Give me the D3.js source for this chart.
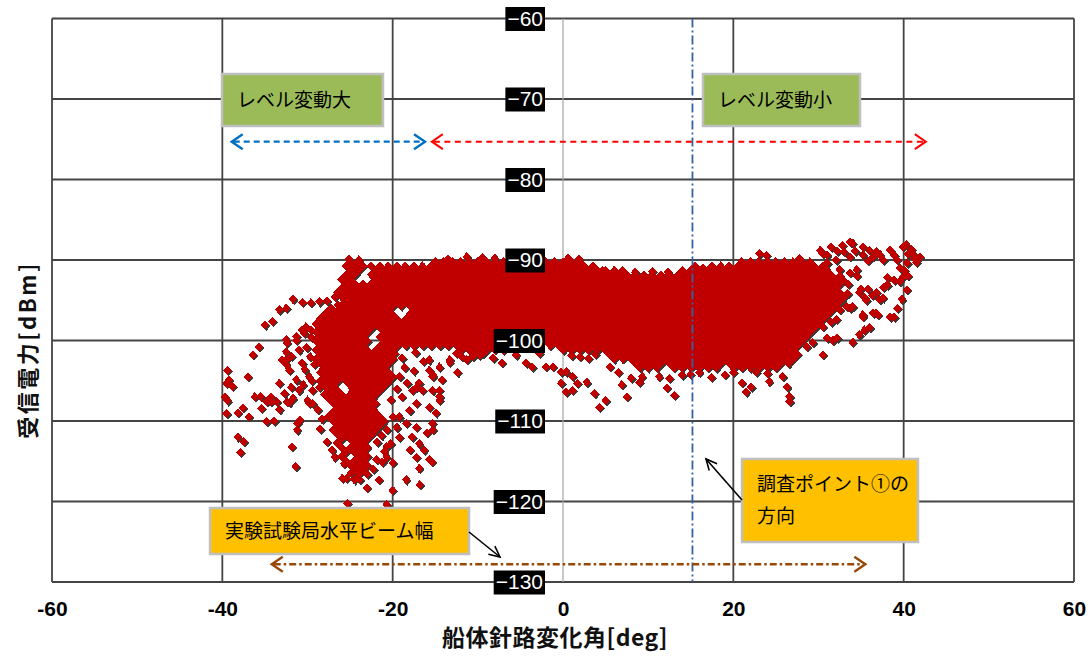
<!DOCTYPE html>
<html>
<head>
<meta charset="utf-8">
<script src="https://cdn.jsdelivr.net/npm/d3@7"></script>
<style>
html,body{margin:0;padding:0;background:#fff;}
svg{display:block;}
</style>
</head>
<body>
<svg id="chart" width="1091" height="660"></svg>
<script>
// Axis ticks
const xTicks = [-60, -40, -20, 0, 20, 40, 60];
const yTicks = [-60, -70, -80, -90, -100, -110, -120, -130];

// Axis titles and annotation texts
const xTitle = "船体針路変化角[deg]";
const yTitle = "受信電力[dBm]";
const labelLarge = "レベル変動大";
const labelSmall = "レベル変動小";
const labelSurvey = ["調査ポイント①の", "方向"];
const labelBeam = "実験試験局水平ビーム幅";

// Annotated ranges [deg] and levels [dBm]
const largeVariation = [-38.9, -16.2];
const smallVariation = [-15.4, 42.6];
const variationLevel = -75.3;
const beamWidth = [-34.2, 35.5];
const beamLevel = -127.8;
const surveyDirection = 15.2;

// Dense band of measurements: [received power dBm, heading change deg values]
const bandRows = [
  [-90.2, [-25,-24,-15,-14,-13,-12,-11,-10,-9,-8,-7,-6,-5,-4,-3,-2,-1,0,1,2,21,22,23,24,25,26,27,28,29]],
  [-90.75, [-25.5,-24.5,-23.5,-22.5,-21.5,-20.5,-19.5,-18.5,-17.5,-16.5,-15.5,-14.5,-13.5,-12.5,-11.5,-10.5,-9.5,-8.5,-7.5,-6.5,-5.5,-4.5,-3.5,-2.5,-1.5,-0.5,0.5,1.5,2.5,3.5,15.5,17.5,18.5,19.5,20.5,21.5,22.5,23.5,24.5,25.5,26.5,27.5,28.5,29.5,30.5]],
  [-91.3, [-25,-24,-22,-21,-20,-19,-18,-17,-16,-15,-14,-13,-12,-11,-10,-9,-8,-7,-6,-5,-4,-3,-2,-1,0,1,2,3,4,5,6,7,14,15,16,17,18,19,20,21,22,23,24,25,26,27,28,29,30,31]],
  [-91.85, [-25.5,-24.5,-22.5,-21.5,-20.5,-19.5,-18.5,-17.5,-16.5,-15.5,-14.5,-13.5,-12.5,-11.5,-10.5,-9.5,-8.5,-7.5,-6.5,-5.5,-4.5,-3.5,-2.5,-1.5,-0.5,0.5,1.5,2.5,3.5,4.5,5.5,6.5,7.5,8.5,9.5,10.5,11.5,12.5,13.5,14.5,15.5,16.5,17.5,18.5,19.5,20.5,21.5,22.5,23.5,24.5,25.5,26.5,27.5,28.5,29.5,30.5,31.5]],
  [-92.4, [-26,-25,-22,-21,-20,-19,-18,-17,-16,-15,-14,-13,-12,-11,-10,-9,-8,-7,-6,-5,-4,-3,-2,-1,0,1,2,3,4,5,6,7,8,9,10,11,12,13,14,15,16,17,18,19,20,21,22,23,24,25,26,27,28,29,30,31,32]],
  [-92.95, [-25.5,-24.5,-23.5,-22.5,-21.5,-20.5,-19.5,-18.5,-17.5,-16.5,-15.5,-14.5,-13.5,-12.5,-11.5,-10.5,-9.5,-8.5,-7.5,-6.5,-5.5,-4.5,-3.5,-2.5,-1.5,-0.5,0.5,1.5,2.5,3.5,4.5,5.5,6.5,7.5,8.5,9.5,10.5,11.5,12.5,13.5,14.5,15.5,16.5,17.5,18.5,19.5,20.5,21.5,22.5,23.5,24.5,25.5,26.5,27.5,28.5,29.5,30.5,31.5,32.5]],
  [-93.5, [-26,-25,-24,-23,-22,-21,-20,-19,-18,-17,-16,-15,-14,-13,-12,-11,-10,-9,-8,-7,-6,-5,-4,-3,-2,-1,0,1,2,3,4,5,6,7,8,9,10,11,12,13,14,15,16,17,18,19,20,21,22,23,24,25,26,27,28,29,30,31,32]],
  [-94.05, [-26.5,-25.5,-24.5,-23.5,-22.5,-21.5,-20.5,-19.5,-18.5,-17.5,-16.5,-15.5,-14.5,-13.5,-12.5,-11.5,-10.5,-9.5,-8.5,-7.5,-6.5,-5.5,-4.5,-3.5,-2.5,-1.5,-0.5,0.5,1.5,2.5,3.5,4.5,5.5,6.5,7.5,8.5,9.5,10.5,11.5,12.5,13.5,14.5,15.5,16.5,17.5,18.5,19.5,20.5,21.5,22.5,23.5,24.5,25.5,26.5,27.5,28.5,29.5,30.5,31.5,32.5]],
  [-94.6, [-26,-25,-24,-23,-22,-21,-20,-19,-18,-17,-16,-15,-14,-13,-12,-11,-10,-9,-8,-7,-6,-5,-4,-3,-2,-1,0,1,2,3,4,5,6,7,8,9,10,11,12,13,14,15,16,17,18,19,20,21,22,23,24,25,26,27,28,29,30,31,32,33]],
  [-95.15, [-25.5,-24.5,-23.5,-22.5,-21.5,-20.5,-19.5,-18.5,-17.5,-16.5,-15.5,-14.5,-13.5,-12.5,-11.5,-10.5,-9.5,-8.5,-7.5,-6.5,-5.5,-4.5,-3.5,-2.5,-1.5,-0.5,0.5,1.5,2.5,3.5,4.5,5.5,6.5,7.5,8.5,9.5,10.5,11.5,12.5,13.5,14.5,15.5,16.5,17.5,18.5,19.5,20.5,21.5,22.5,23.5,24.5,25.5,26.5,27.5,28.5,29.5,30.5,31.5,32.5]],
  [-95.7, [-26,-25,-24,-23,-22,-21,-20,-19,-18,-17,-16,-15,-14,-13,-12,-11,-10,-9,-8,-7,-6,-5,-4,-3,-2,-1,0,1,2,3,4,5,6,7,8,9,10,11,12,13,14,15,16,17,18,19,20,21,22,23,24,25,26,27,28,29,30,31,32]],
  [-96.25, [-27.5,-26.5,-25.5,-24.5,-23.5,-22.5,-21.5,-20.5,-17.5,-16.5,-15.5,-14.5,-13.5,-12.5,-11.5,-10.5,-9.5,-8.5,-7.5,-6.5,-5.5,-4.5,-3.5,-2.5,-1.5,-0.5,0.5,1.5,2.5,3.5,4.5,5.5,6.5,7.5,8.5,9.5,10.5,11.5,12.5,13.5,14.5,15.5,16.5,17.5,18.5,19.5,20.5,21.5,22.5,23.5,24.5,25.5,26.5,27.5,28.5,29.5,30.5,31.5]],
  [-96.8, [-28,-27,-26,-25,-24,-23,-22,-21,-20,-18,-17,-16,-15,-14,-13,-12,-11,-10,-9,-8,-7,-6,-5,-4,-3,-2,-1,0,1,2,3,4,5,6,7,8,9,10,11,12,13,14,15,16,17,18,19,20,21,22,23,24,25,26,27,28,29,30,31]],
  [-97.35, [-28.5,-27.5,-26.5,-25.5,-24.5,-23.5,-22.5,-21.5,-20.5,-19.5,-18.5,-17.5,-16.5,-15.5,-14.5,-13.5,-12.5,-11.5,-10.5,-9.5,-8.5,-7.5,-6.5,-5.5,-4.5,-3.5,-2.5,-1.5,-0.5,0.5,1.5,2.5,3.5,4.5,5.5,6.5,7.5,8.5,9.5,10.5,11.5,12.5,13.5,14.5,15.5,16.5,17.5,18.5,19.5,20.5,21.5,22.5,23.5,24.5,25.5,26.5,27.5,28.5,29.5,30.5]],
  [-97.9, [-29,-28,-27,-26,-25,-24,-23,-22,-21,-20,-19,-18,-17,-16,-15,-14,-13,-12,-11,-10,-9,-8,-7,-6,-5,-4,-3,-2,-1,0,1,2,3,4,5,6,7,8,9,10,11,12,13,14,15,16,17,18,19,20,21,22,23,24,25,26,27,28,29,30]],
  [-98.45, [-28.5,-27.5,-26.5,-25.5,-24.5,-23.5,-22.5,-21.5,-20.5,-19.5,-18.5,-17.5,-16.5,-15.5,-14.5,-13.5,-12.5,-11.5,-10.5,-9.5,-8.5,-7.5,-6.5,-5.5,-4.5,-3.5,-2.5,-1.5,-0.5,0.5,1.5,2.5,3.5,4.5,5.5,6.5,7.5,8.5,9.5,10.5,11.5,12.5,13.5,14.5,15.5,16.5,17.5,18.5,19.5,20.5,21.5,22.5,23.5,24.5,25.5,26.5,27.5,28.5,29.5]],
  [-99.0, [-29,-28,-27,-26,-25,-24,-23,-21,-20,-19,-18,-17,-16,-15,-14,-13,-12,-11,-10,-9,-8,-7,-6,-5,-4,-3,-2,-1,0,1,2,3,4,5,6,7,8,9,10,11,12,13,14,15,16,17,18,19,20,21,22,23,24,25,26,27,28,29]],
  [-99.55, [-28.5,-27.5,-26.5,-25.5,-24.5,-23.5,-21.5,-20.5,-19.5,-18.5,-17.5,-16.5,-15.5,-14.5,-13.5,-12.5,-11.5,-10.5,-9.5,-8.5,-7.5,-6.5,-5.5,-4.5,-3.5,-2.5,-1.5,-0.5,0.5,1.5,2.5,3.5,4.5,5.5,6.5,7.5,8.5,9.5,10.5,11.5,12.5,13.5,14.5,15.5,16.5,17.5,18.5,19.5,20.5,21.5,22.5,23.5,24.5,25.5,26.5,27.5,28.5]],
  [-100.1, [-29,-28,-27,-26,-25,-24,-23,-21,-20,-19,-18,-17,-16,-15,-14,-13,-12,-11,-10,-9,-8,-7,-6,-5,-4,-3,-2,-1,0,1,2,3,4,5,6,7,8,9,10,11,12,13,14,15,16,17,18,19,20,21,22,23,24,25,26,27,28]],
  [-100.65, [-28.5,-27.5,-26.5,-25.5,-24.5,-23.5,-21.5,-20.5,-19.5,-18.5,-17.5,-16.5,-15.5,-14.5,-13.5,-12.5,-11.5,-10.5,-9.5,-8.5,-7.5,-6.5,-1.5,-0.5,0.5,1.5,2.5,3.5,4.5,5.5,6.5,7.5,8.5,9.5,10.5,11.5,12.5,13.5,14.5,15.5,16.5,17.5,18.5,19.5,20.5,21.5,22.5,23.5,24.5,25.5,26.5,27.5]],
  [-101.2, [-29,-28,-27,-26,-25,-24,-23,-22,-21,-20,-12,-11,-10,-9,-8,-7,0,1,2,3,4,5,6,7,8,9,10,11,12,13,14,15,16,17,18,19,20,21,22,23,24,25,26,27]],
  [-101.75, [-28.5,-27.5,-26.5,-25.5,-24.5,-23.5,-22.5,-21.5,-20.5,5.5,6.5,7.5,8.5,9.5,10.5,11.5,12.5,13.5,14.5,15.5,16.5,17.5,18.5,19.5,20.5,21.5,22.5,23.5,24.5,25.5,26.5,27.5]],
  [-102.3, [-29,-28,-27,-26,-25,-24,-23,-22,-21,-20,6,7,8,9,10,11,12,13,14,15,16,17,18,19,20,21,22,23,24,25,26,27]],
  [-102.85, [-28.5,-27.5,-26.5,-25.5,-24.5,-23.5,-22.5,-21.5,-20.5,8.5,9.5,10.5,11.5,12.5,13.5,14.5,15.5,16.5,17.5,18.5,19.5,20.5,21.5,22.5,23.5,24.5,25.5,26.5]],
  [-103.4, [-28,-27,-26,-25,-24,-23,-22,-21,9,10,11,13,14,15,16,17,18,20,21,22,23,24,25]],
  [-103.95, [-28.5,-27.5,-26.5,-25.5,-24.5,-23.5,-22.5,-21.5,-20.5]],
  [-104.5, [-28,-27,-26,-25,-24,-23,-22,-21,-20]],
  [-105.05, [-28.5,-27.5,-26.5,-25.5,-24.5,-23.5,-22.5,-21.5,-20.5]],
  [-105.6, [-28,-27,-25,-24,-23,-22,-21]],
  [-106.15, [-27.5,-26.5,-24.5,-23.5,-22.5,-21.5]],
  [-106.7, [-28,-27,-26,-25,-24,-23,-22]],
  [-107.25, [-27.5,-26.5,-25.5,-24.5,-23.5,-22.5]],
  [-107.8, [-27,-26,-25,-24,-23,-22]],
  [-108.35, [-26.5,-25.5,-24.5,-23.5,-22.5]],
  [-108.9, [-27,-26,-25,-24,-23,-22]],
  [-109.45, [-27.5,-26.5,-25.5,-24.5,-23.5,-22.5,-21.5]],
  [-110.0, [-27,-26,-25,-24,-23,-22,-21]],
  [-110.55, [-26.5,-25.5,-24.5,-23.5,-22.5,-21.5]],
  [-111.1, [-27,-26,-25,-24,-23,-22]],
  [-111.65, [-26.5,-25.5,-24.5,-23.5,-22.5]],
  [-112.2, [-26,-25,-24,-23]],
  [-112.75, [-26.5,-24.5,-23.5]],
  [-113.3, [-26,-25,-24,-23]],
  [-113.85, [-25.5,-24.5,-23.5]],
  [-114.4, [-26,-24,-23]],
  [-114.95, [-25.5,-24.5,-23.5]],
  [-115.5, [-25,-24,-23]],
  [-116.05, [-24.5,-23.5]],
  [-116.6, [-24,-23]]
];

// Ragged upper and outer edge of the band [deg, dBm]
const edgePoints = [
  [-25.1,-89.9],[-24,-90.0],[-13.5,-89.9],[-11.3,-89.6],[-9.5,-89.7],[-8,-89.8],[0.6,-89.8],[1.9,-89.9],
  [4.6,-91.3],[8.5,-91.5],[10.5,-91.4],[12.3,-91.5],[16.4,-91.0],[23.1,-89.2],[23.9,-89.4],[27.8,-89.8],
  [-26.4,-95.6],[-27.2,-96.0],[-26.8,-94.6],[-26.6,-97.1],[-29.6,-99.6],[-30.1,-100.9],[-29.7,-102.0]
];

// Scattered points on the port side (large negative angles)
const leftScatter = [
  [-31.7,-94.9],[-30.6,-95.3],[-29.6,-95.3],[-28.6,-95.2],[-27.7,-95.1],[-33.3,-96.2],[-32.5,-96.0],[-35,-98.1],[-34.1,-97.6],[-35.7,-100.8],[-36.4,-101.8],
  [-39.4,-103.7],[-39.2,-104.9],[-39.5,-105.3],[-38.8,-105.7],[-39.4,-107.5],[-39.7,-107.0],[-39.5,-109.1],[-38.2,-109.0],[-37.6,-108.4],[-36.9,-109.5],
  [-37,-104.5],[-36.2,-107],[-35.5,-107.0],[-35.4,-108.4],[-34.8,-107.6],[-34.3,-107.6],[-34.8,-110.1],[-33.9,-110.0],[-33.3,-108.6],[-31.2,-110.3],
  [-30.9,-109.9],[-31.2,-111.1],[-38.2,-112],[-37.5,-112.6],[-37.9,-113.9],[-31.8,-113.2],[-31.4,-115.7],
  [-32.5,-101.4],[-31.9,-102],[-31,-101.2],[-30.6,-102.8],[-32.1,-103.7],[-31.3,-104.9],[-31.9,-105.8],[-31,-106.2],[-29.8,-104.5],[-29.4,-106.2],
  [-29.8,-107.8],[-32.7,-106.6],[-32.4,-107.6],[-32.4,-100.3],[-31.3,-100],[-30.4,-99.1],[-30.2,-98.3],[-29.6,-98.7],[-32.5,-102.4],[-33.3,-105.3],
  [-34.3,-107],[-33.6,-107.6],[-32.1,-107.7],[-31.7,-107.2],[-30,-107.4],[-29.4,-107.8],[-28.6,-105.8],[-33,-102.4],[-32.5,-103],[-30.6,-98.7],
  [-31.3,-99.5],[-32.5,-99.9],[-30.3,-103.6],[-29.2,-103.0],[-29.5,-105.0],[-30.5,-105.5],[-28.8,-108.6],[-28.3,-109.8],[-28.5,-111.0]
];

// Spread below the band on the port side and the tail of the dense column
const columnScatter = [
  [-19.2,-104.5],[-18.3,-105.3],[-18.9,-107.0],[-17.7,-106.2],[-17.2,-107.8],[-18.0,-108.7],[-19.2,-109.5],[-18.4,-110.3],[-17.2,-110.8],[-19.2,-112.0],
  [-17.7,-112.0],[-16.0,-111.5],[-15.3,-110.3],[-15.7,-108.3],[-14.5,-107.0],[-15.3,-106.2],[-16.9,-105.3],[-15.3,-104.5],[-14.5,-103.3],[-15.7,-102.4],
  [-13.3,-102.4],[-12.5,-101.6],[-11.3,-102.4],[-10.6,-101.6],[-9.4,-101.6],[-18.0,-113.6],[-17.2,-114.5],[-15.7,-114.8],[-16.9,-115.9],[-20.2,-107.4],
  [-20.0,-109.5],[-20.7,-111.1],[-20.2,-112.8],[-20.7,-114.5],[-25.3,-120.2],[-23.9,-117.3],[-21.6,-117.3],[-20.7,-120.4],[-20.0,-118.6],[-18.4,-117.3],
  [-16.8,-117.9],[-15.4,-115.1],[-16.3,-113.6],[-16.9,-112.8],[-15.3,-111.1],[-14.9,-109],[-14.5,-107.4],[-14.5,-106.2],[-27.7,-112.6],[-27.1,-113.6],
  [-26.8,-114.5],[-25.7,-115.3],[-24.9,-116.5],[-24.5,-117.3],[-25.9,-117.1],[-25.4,-117.1],[-21.9,-114.8],[-21.2,-115.1],[-20.7,-113.2],[-20.0,-115.2],
  [-21.0,-113.8],[-19.5,-106.0],[-18.6,-103.4],[-17.5,-103.8],[-16.4,-102.6],[-19.8,-101.6],[-18.9,-102.2],[-17.3,-101.5],[-21.3,-111.8],[-21.8,-112.6],
  [-19.5,-110.8],[-22.3,-116.0],[-23.0,-118.3]
];

// Scattered points below the band around the bow direction
const lowerScatter = [
  [-12.4,-104],[-14.2,-104.9],[-15.7,-103.7],[-15.3,-104.3],[-16.5,-106.2],[-17.2,-105.8],[-13.3,-102.7],[-11.9,-102],[-10.6,-102],[-9.8,-101.8],
  [-9,-101.2],[-7.2,-102.8],[-4.3,-102.8],[-3.6,-103.3],[-2,-103.3],[-1.2,-103.3],[-0.2,-103.9],[0.4,-103.9],[1.1,-104.5],[1.7,-105.3],
  [2.8,-105.2],[3.7,-106.6],[-0.2,-105.3],[0.4,-106.4],[1.1,-106.2],[4.3,-108.3],[5,-107.5],[6.9,-105.5],[7.5,-107],[8,-104.7],
  [9.3,-104.5],[9,-105.2],[11.3,-104.5],[12.5,-104.7],[12.2,-105.9],[13.1,-106.8],[17.4,-104.6],[21,-105.3],[22.1,-105.8],[21.5,-106.4],
  [22.7,-103.9],[24.2,-105.1],[25.8,-104.5],[26.3,-105.8],[26.6,-107],[26.6,-107.6],[28.6,-100.8],[29.3,-100.3],[3,-102.2],[2,-102.0],
  [5.5,-103.3],[6.5,-104.0],[15,-104.2],[16,-104.0],[19,-104.3],[20,-104.0],[24,-104.1],[14,-104.3],[-5.5,-101.8],[-8.2,-102.2],
  [-2.8,-101.6],[1.0,-101.9],[3.8,-101.7]
];

// Loop of points on the starboard side (large positive angles)
const loopPoints = [
  [30.5,-89.2],[31.5,-88.4],[32.8,-88.2],[34,-87.9],[35.2,-88.4],[36.8,-89],[38.4,-88.8],[39.9,-88.4],[41.1,-89.2],[41.9,-89.6],
  [31,-90.4],[32.1,-90],[33.7,-89.6],[35.2,-89.4],[37.6,-90],[39.2,-90],[40.4,-90.4],[41.5,-90.3],[33,-89],[34.3,-88.9],
  [36,-88.8],[37.2,-89.3],[38.9,-89.4],[40.5,-89.3],[32.2,-88.9],[30.2,-88.8],[31,-89.4],[35.8,-90.1],[36.4,-89.6],[40.9,-88.7],
  [41.3,-89.8],[33.7,-87.8],[40.3,-88.1],
  [32.5,-91.2],[33.7,-91.6],[34.5,-91.2],[32.9,-92.5],[34.5,-92],[32.5,-92],[33.5,-93],
  [39.9,-92.1],[39.5,-92.7],[40.4,-93.7],[39.8,-94.9],[39.3,-96],[40.5,-92],[40.1,-91.3],[39.6,-91],
  [34.8,-94],[35.4,-94.7],[36.3,-94.4],[36.8,-94],[37.6,-93.4],[38.1,-93.1],[38.9,-92.5],[38.1,-92.2],[37.2,-94.9],[37.6,-94.7],
  [35,-93.6],[35.8,-93.6],[35.6,-95],
  [32.5,-94.6],[33.3,-95.8],[34,-95.8],[33.7,-96],[32.5,-96.2],[31.5,-97.7],[32.1,-97.4],[30.5,-98.3],[33.4,-94.2],
  [35.2,-96.8],[36.8,-96.6],[38.4,-97.1],[38.9,-97.1],[36.4,-96.6],[37,-96.8],[35.2,-97.1],[36,-98.4],[35.4,-98.7],[34.8,-99.3],
  [34,-100.2],[31.7,-100],[31,-99.7],[30.5,-101.8],[32.2,-99.7]
];

const points = bandRows
  .flatMap(([v, xs]) => xs.map(h => [h, v]))
  .concat(edgePoints, leftScatter, columnScatter, lowerScatter, loopPoints);

const FONT = '"Liberation Sans", Arial, sans-serif';
const JP = '"Noto Sans CJK JP", "Noto Sans CJK SC", sans-serif';

const svg = d3.select("#chart");
const x = d3.scaleLinear().domain([-60, 60]).range([52, 1074]);
const y = d3.scaleLinear().domain([-130, -60]).range([582, 18.5]);

// Grid and frame
const grid = svg.append("g");
grid.selectAll(".hgrid").data(yTicks).join("line").attr("class", "hgrid")
  .attr("x1", x(-60)).attr("x2", x(60))
  .attr("y1", d => y(d)).attr("y2", d => y(d))
  .attr("stroke", "#444").attr("stroke-width", 1.8);
grid.selectAll(".vgrid").data(xTicks.filter(d => d !== 0)).join("line").attr("class", "vgrid")
  .attr("x1", d => x(d)).attr("x2", d => x(d))
  .attr("y1", y(-60)).attr("y2", y(-130))
  .attr("stroke", "#444").attr("stroke-width", 1.8);
grid.append("line")
  .attr("x1", x(0)).attr("x2", x(0)).attr("y1", y(-60)).attr("y2", y(-130))
  .attr("stroke", "#a6a6a6").attr("stroke-width", 1.2);

// Scatter markers: shadow layer then red diamonds (crisp so dense areas close up)
const diamond = "M0,-4.6L4.4,0L0,4.6L-4.4,0Z";
const marks = svg.append("g").attr("shape-rendering", "crispEdges");
marks.append("g").selectAll("path").data(points).join("path")
  .attr("d", diamond)
  .attr("transform", d => `translate(${x(d[0]) + 1.2},${y(d[1]) + 1.2})`)
  .attr("fill", "#3a3a3a");
marks.append("g").selectAll("path").data(points).join("path")
  .attr("d", diamond)
  .attr("transform", d => `translate(${x(d[0])},${y(d[1])})`)
  .attr("fill", "#c00000");

// Survey point direction (dash-dot vertical)
svg.append("line")
  .attr("x1", x(surveyDirection)).attr("x2", x(surveyDirection))
  .attr("y1", y(-60)).attr("y2", y(-130))
  .attr("stroke", "#3560a3").attr("stroke-width", 1.8)
  .attr("stroke-dasharray", "9,3,2,3");

// Double-headed dashed arrows
function doubleArrow(range, level, color, dash, width) {
  const g = svg.append("g");
  const x1 = x(range[0]), x2 = x(range[1]), yy = y(level);
  g.append("line").attr("x1", x1 + 2).attr("x2", x2 - 2).attr("y1", yy).attr("y2", yy)
    .attr("stroke", color).attr("stroke-width", width).attr("stroke-dasharray", dash);
  [[x1, 1], [x2, -1]].forEach(([tx, dir]) => {
    g.append("path")
      .attr("d", `M${tx + dir * 11},${yy - 7.5}L${tx},${yy}L${tx + dir * 11},${yy + 7.5}`)
      .attr("fill", "none").attr("stroke", color).attr("stroke-width", width);
  });
}
doubleArrow(largeVariation, variationLevel, "#0070c0", "6,4", 2.4);
doubleArrow(smallVariation, variationLevel, "#ff0000", "6,4.5", 2.0);
doubleArrow(beamWidth, beamLevel, "#984807", "7,3,2.5,3", 2.4);

// Y tick labels: white text on black boxes next to the zero line
const yAxis = svg.append("g")
  .attr("transform", `translate(${x(0)},0)`)
  .call(d3.axisLeft(y).tickValues(yTicks).tickSize(0).tickPadding(20).tickFormat(d3.format("d")));
yAxis.select(".domain").remove();
yAxis.attr("font-family", FONT).attr("font-size", 21);
yAxis.selectAll(".tick text").attr("fill", "#fff");
yAxis.selectAll(".tick").each(function () {
  const t = d3.select(this).select("text");
  const bb = t.node().getBBox();
  d3.select(this).insert("rect", "text")
    .attr("x", bb.x - 2).attr("y", -12).attr("width", bb.width + 4).attr("height", 24)
    .attr("fill", "#000");
});

// X tick labels
const xAxis = svg.append("g")
  .attr("transform", `translate(0,${y(-130)})`)
  .call(d3.axisBottom(x).tickValues(xTicks).tickSize(0).tickPadding(19).tickFormat(d => String(d)));
xAxis.select(".domain").remove();
xAxis.attr("font-family", FONT).attr("font-size", 21).attr("font-weight", "bold");
xAxis.selectAll(".tick text").attr("fill", "#000");

// Axis titles
svg.append("text")
  .attr("x", 555).attr("y", 646).attr("text-anchor", "middle")
  .attr("font-family", JP).attr("font-size", 23).attr("font-weight", "bold").attr("fill", "#111")
  .attr("letter-spacing", 0.5)
  .text(xTitle);
svg.append("text")
  .attr("transform", "translate(36,350) rotate(-90)").attr("text-anchor", "middle")
  .attr("font-family", JP).attr("font-size", 22).attr("font-weight", "bold").attr("fill", "#111")
  .attr("letter-spacing", 2.5)
  .text(yTitle);

// Callout boxes
function callout(box, fill, lines, tx, ty, lineGap, size) {
  const g = svg.append("g");
  g.append("rect").attr("x", box[0]).attr("y", box[1]).attr("width", box[2]).attr("height", box[3])
    .attr("fill", fill).attr("stroke", "#bfbfbf").attr("stroke-width", 2.5);
  lines.forEach((s, i) => {
    g.append("text").attr("x", tx).attr("y", ty + i * lineGap)
      .attr("font-family", JP).attr("font-size", size).attr("fill", "#000").text(s);
  });
}
callout([222, 74, 161, 52], "#9bbb59", [labelLarge], 237, 107, 0, 19);
callout([703, 74, 157, 52], "#9bbb59", [labelSmall], 718, 107, 0, 19);
callout([742, 459, 176, 83], "#ffc000", labelSurvey, 757, 491, 32, 19);
callout([210, 508, 259, 46], "#ffc000", [labelBeam], 225, 538, 0, 19);

// Pointer arrows from callouts
function pointer(from, to) {
  const ang = Math.atan2(to[1] - from[1], to[0] - from[0]);
  const len = 12, spread = 0.45;
  const p1 = [to[0] - len * Math.cos(ang - spread), to[1] - len * Math.sin(ang - spread)];
  const p2 = [to[0] - len * Math.cos(ang + spread), to[1] - len * Math.sin(ang + spread)];
  svg.append("line").attr("x1", from[0]).attr("y1", from[1]).attr("x2", to[0]).attr("y2", to[1])
    .attr("stroke", "#000").attr("stroke-width", 1.6);
  svg.append("path").attr("d", `M${p1[0]},${p1[1]}L${to[0]},${to[1]}L${p2[0]},${p2[1]}`)
    .attr("fill", "none").attr("stroke", "#000").attr("stroke-width", 1.6);
}
pointer([742, 500], [706, 459]);
pointer([469, 532], [500, 557]);
</script>
</body>
</html>
